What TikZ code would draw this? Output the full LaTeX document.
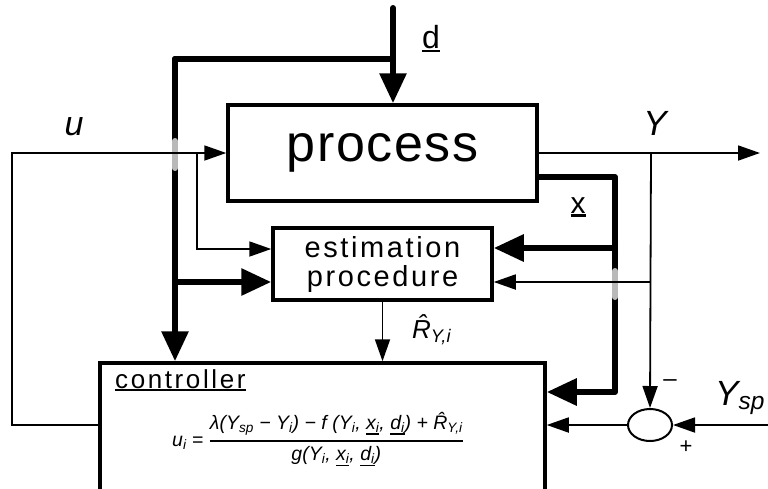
\documentclass[tikz,border=0pt]{standalone}
\usepackage{fontspec}
\setmainfont{Liberation Sans}
\usepackage{amsmath}
\usetikzlibrary{arrows.meta,calc,shapes.geometric}

\newcommand{\undl}[1]{\setbox0\hbox{#1}\rlap{\rule[\dimexpr-\dp0-0.12em\relax]{\wd0}{0.08em}}\box0}
\newcommand{\fsz}[1]{\fontsize{#1}{#1}\selectfont}
\newcommand{\ix}{\textsubscript{i}}

\tikzset{
  block/.style={draw, line width=3.5pt, rectangle, inner sep=0pt},
  signal/.style={line width=1.8pt, -{Triangle[length=22pt,width=15pt]}},
  busline/.style={line width=6pt, line join=round, line cap=round, -{Triangle[length=30pt,width=26pt]}},
  jump/.style={line width=6pt, gray!55, line cap=round}
}

\begin{document}
\begin{tikzpicture}[x=1pt,y=-1pt]
\useasboundingbox (0,0) rectangle (768,488);

\node[block, minimum width=309pt, minimum height=96pt, font=\fsz{52}\addfontfeatures{LetterSpace=3}] (process) at (382.5,153) {process};
\node[block, minimum width=219pt, minimum height=72pt, align=center, font=\fontsize{29}{29}\selectfont\addfontfeatures{LetterSpace=9}] (est) at (382.5,264) {estimation\\procedure};
\node[block, minimum width=445pt, minimum height=130pt] (ctrl) at (322.5,428) {};
\node[ellipse, draw, line width=2pt, minimum width=44pt, minimum height=32pt] (sum) at (650,425) {};

\node[font=\fsz{26}\addfontfeatures{LetterSpace=10}, anchor=base west, inner sep=0pt] (ctitle) at (115,388) {\undl{controller}};
\node[font=\fsz{19.5}\itshape] (law) at (318,439) {$\text{u\ix{} = }\genfrac{}{}{1.6pt}{0}{\text{λ(Y\textsubscript{sp} − Y\ix) − f (Y\ix, \undl{x\ix}, \undl{d\ix}) + \^{R}\textsubscript{Y,i}}}{\text{g(Y\ix, \undl{x\ix}, \undl{d\ix})}}$};

\node[font=\fsz{32}, anchor=base] (dlab) at (431,48) {\undl{d}};
\node[font=\fsz{30}, anchor=base] (xlab) at (578,213) {\undl{x}};
\node[font=\fsz{34}\itshape, anchor=base] (ulab) at (74,135) {u};
\node[font=\fsz{35}\itshape, anchor=base] (ylab) at (655,135) {Y};
\node[font=\fsz{35}\itshape, anchor=base west, inner sep=0pt] (ysplab) at (715,405) {Y\textsubscript{sp}};
\node[font=\fsz{26}\itshape, anchor=base west, inner sep=0pt] (rlab) at (412,338) {\^{R}\textsubscript{Y,i}};
\node[font=\fsz{24}] (minus) at (670,383) {–};
\node[font=\fsz{22}] (plus) at (686,447) {+};

\coordinate (dtop) at (393,8);
\coordinate (dbr) at (393,59);
\coordinate (bcorner) at (175,59);
\coordinate (xcorner) at (615,177);
\coordinate (ubr) at (197,153);
\coordinate (uleft) at (12,425);
\coordinate (ybr) at (651,153);
\coordinate (yout) at (760,153);
\coordinate (ysp) at (768,425);

\draw[busline] (dtop) -- (dtop |- process.north);
\draw[busline, -] (dbr) -- (bcorner);
\draw[busline] (bcorner) -- (bcorner |- ctrl.north);
\draw[busline] ($(bcorner |- est.west)+(0,18)$) -- ($(est.west)+(0,18)$);
\draw[busline] ($(process.east)+(0,24)$) -- (xcorner) |- ($(ctrl.east)+(0,-36)$);
\draw[busline] ($(xcorner |- est.east)+(0,-16)$) -- ($(est.east)+(0,-16)$);

\draw[jump] ($(bcorner |- process.west)+(0,-12)$) -- +(0,27);
\draw[jump] ($(xcorner |- est.east)+(0,7)$) -- +(0,26);

\draw[signal] (ctrl.west |- sum) -- (uleft) |- (process.west);
\draw[signal] (ubr) |- ($(est.west)+(0,-15)$);
\draw[signal] (process.east) -- (yout);
\draw[signal] (ybr) -- (sum.north);
\draw[signal] ($(ybr |- est.east)+(0,18)$) -- ($(est.east)+(0,18)$);
\draw[signal] (ysp) -- (sum.east);
\draw[signal] (sum.west) -- (ctrl.east |- sum);
\draw[signal] (est.south) -- (ctrl.north -| est.south);
\end{tikzpicture}
\end{document}
